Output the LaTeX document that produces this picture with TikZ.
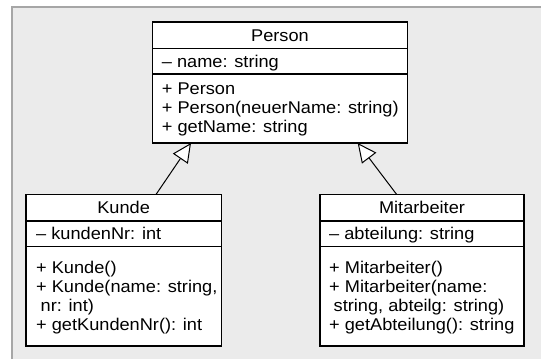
\documentclass[tikz,border=0pt]{standalone}
\usepackage{fontspec}
\setmainfont{Liberation Sans}[FakeStretch=1.07]
\usetikzlibrary{arrows.meta}
\definecolor{bgfill}{HTML}{EBEBEB}
\definecolor{bgedge}{HTML}{A6A6A6}
\begin{document}
\begin{tikzpicture}[x=1pt,y=-1pt,
  box/.style={draw=black, line width=1.2pt, fill=white, inner sep=0pt, outer sep=0pt, anchor=north west},
  sepline/.style={line width=1.2pt},
  txt/.style={inner sep=0pt, anchor=base west, font=\fontsize{17}{19}\selectfont},
  ttl/.style={inner sep=0pt, anchor=base, font=\fontsize{17}{19}\selectfont},
  gen/.style={line width=1pt, -{Triangle[length=19pt,width=18pt,fill=white,line width=1pt]}}
]
\useasboundingbox (0,0) rectangle (541,359);
\fill[bgfill] (12,7) rectangle (541,359);
\draw[bgedge, line width=1.5pt] (12,359) -- (12,7) -- (541,7);

% boxes
\node[box, minimum width=254.6pt, minimum height=121pt] (person) at (152.7,22) {};
\node[box, minimum width=195.3pt, minimum height=151.5pt] (kunde) at (26,194.5) {};
\node[box, minimum width=204pt, minimum height=151.5pt] (mit) at (320,194.5) {};

% separator levels
\coordinate (pa) at (0,48.3);
\coordinate (pb) at (0,74);
\coordinate (ka) at (0,221);
\coordinate (kb) at (0,246.5);
\draw[sepline] (person.west |- pa) -- (person.east |- pa);
\draw[sepline] (person.west |- pb) -- (person.east |- pb);
\draw[sepline] (kunde.west |- ka) -- (kunde.east |- ka);
\draw[sepline] (kunde.west |- kb) -- (kunde.east |- kb);
\draw[sepline] (mit.west |- ka) -- (mit.east |- ka);
\draw[sepline] (mit.west |- kb) -- (mit.east |- kb);

% Person texts
\node[ttl] (pt) at (280,41) {Person};
\node[txt] (p1) at (161.7,67) {– name: string};
\node[txt] (p2) at (161.7,94) {+ Person};
\node[txt] (p3) at (161.7,113) {+ Person(neuerName: string)};
\node[txt] (p4) at (161.7,132) {+ getName: string};

% Kunde texts
\node[ttl] (kt) at (123.65,213.5) {Kunde};
\node[txt] (k1) at (36,239.5) {– kundenNr: int};
\node[txt] (k2) at (36,273) {+ Kunde()};
\node[txt] (k3) at (36,292.2) {+ Kunde(name: string,};
\node[txt] (k4) at (40.5,311.4) {nr: int)};
\node[txt] (k5) at (36,330.6) {+ getKundenNr(): int};

% Mitarbeiter texts
\node[ttl] (mt) at (422,213.5) {Mitarbeiter};
\node[txt] (m1) at (329,239.5) {– abteilung: string};
\node[txt] (m2) at (329,273) {+ Mitarbeiter()};
\node[txt] (m3) at (329,292.2) {+ Mitarbeiter(name:};
\node[txt] (m4) at (333.5,311.4) {string, abteilg: string)};
\node[txt] (m5) at (329,330.6) {+ getAbteilung(): string};

% generalisation arrows
\coordinate (kfrom) at ([xshift=130pt]kunde.north west);
\coordinate (kto) at ([xshift=38.3pt]person.south west);
\coordinate (mfrom) at ([xshift=76.7pt]mit.north west);
\coordinate (mto) at ([xshift=-49.6pt]person.south east);
\draw[gen] (kfrom) -- (kto);
\draw[gen] (mfrom) -- (mto);
\end{tikzpicture}
\end{document}
